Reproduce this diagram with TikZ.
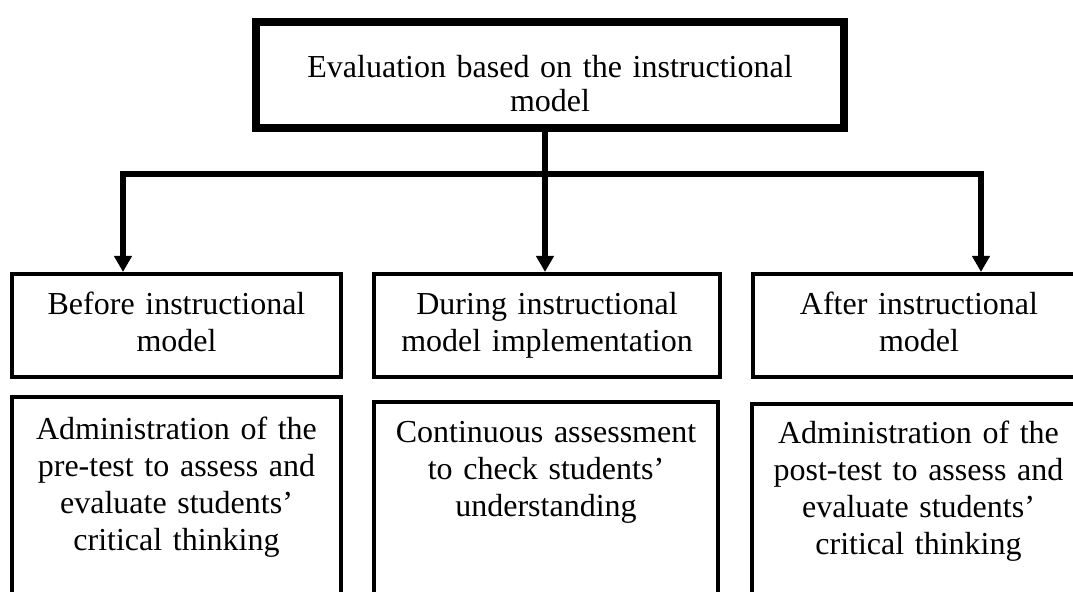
\documentclass[tikz,border=0pt]{standalone}
\usepackage{fontspec}
\setmainfont{Liberation Serif}
\usetikzlibrary{arrows.meta}

\begin{document}
\begin{tikzpicture}[x=0.5pt, y=-0.5pt,
        box/.style={draw, line width=2pt, inner sep=0pt, anchor=north, align=center,
            font=\fontsize{16pt}{18.5pt}\selectfont},
        flow/.style={line width=2.75pt, -{Triangle[length=8pt,width=8.5pt]}}]
        \useasboundingbox (0,0) rectangle (1073,592);
        \clip (0,0) rectangle (1073,592);

        \node (eval) [box, line width=4pt, text width=294pt, text height=28pt, text depth=25pt,
            font=\fontsize{16pt}{17pt}\selectfont] at (550,18)
            {Evaluation based on the instructional\\model};

        \node (before) [box, text width=164.5pt, text height=20.5pt, text depth=31pt] at (176.5,272)
            {Before instructional\\model};
        \node (during) [box, text width=173pt, text height=20.5pt, text depth=31pt] at (547,272)
            {During instructional\\model implementation};
        \node (after) [box, text width=166pt, text height=20.5pt, text depth=31pt] at (919,272)
            {After instructional\\model};

        \node (pretest) [box, text width=164.5pt, text height=21.5pt, text depth=101pt] at (176.5,395)
            {Administration of the\\pre-test to assess and\\evaluate students'\\critical thinking};
        \node (contin) [box, text width=172pt, text height=20.5pt, text depth=101pt] at (546,400)
            {Continuous assessment\\to check students'\\understanding};
        \node (posttest) [box, text width=166.5pt, text height=20pt, text depth=101pt] at (918.5,402)
            {Administration of the\\post-test to assess and\\evaluate students'\\critical thinking};

        \coordinate (bus) at (545,174);
        \draw[flow] (eval.south -| bus) -- (during.north -| bus);
        \draw[flow] (bus) -| ([xshift=-26.75pt]before.north);
        \draw[flow] (bus) -| ([xshift=31pt]after.north);
\end{tikzpicture}
\end{document}
